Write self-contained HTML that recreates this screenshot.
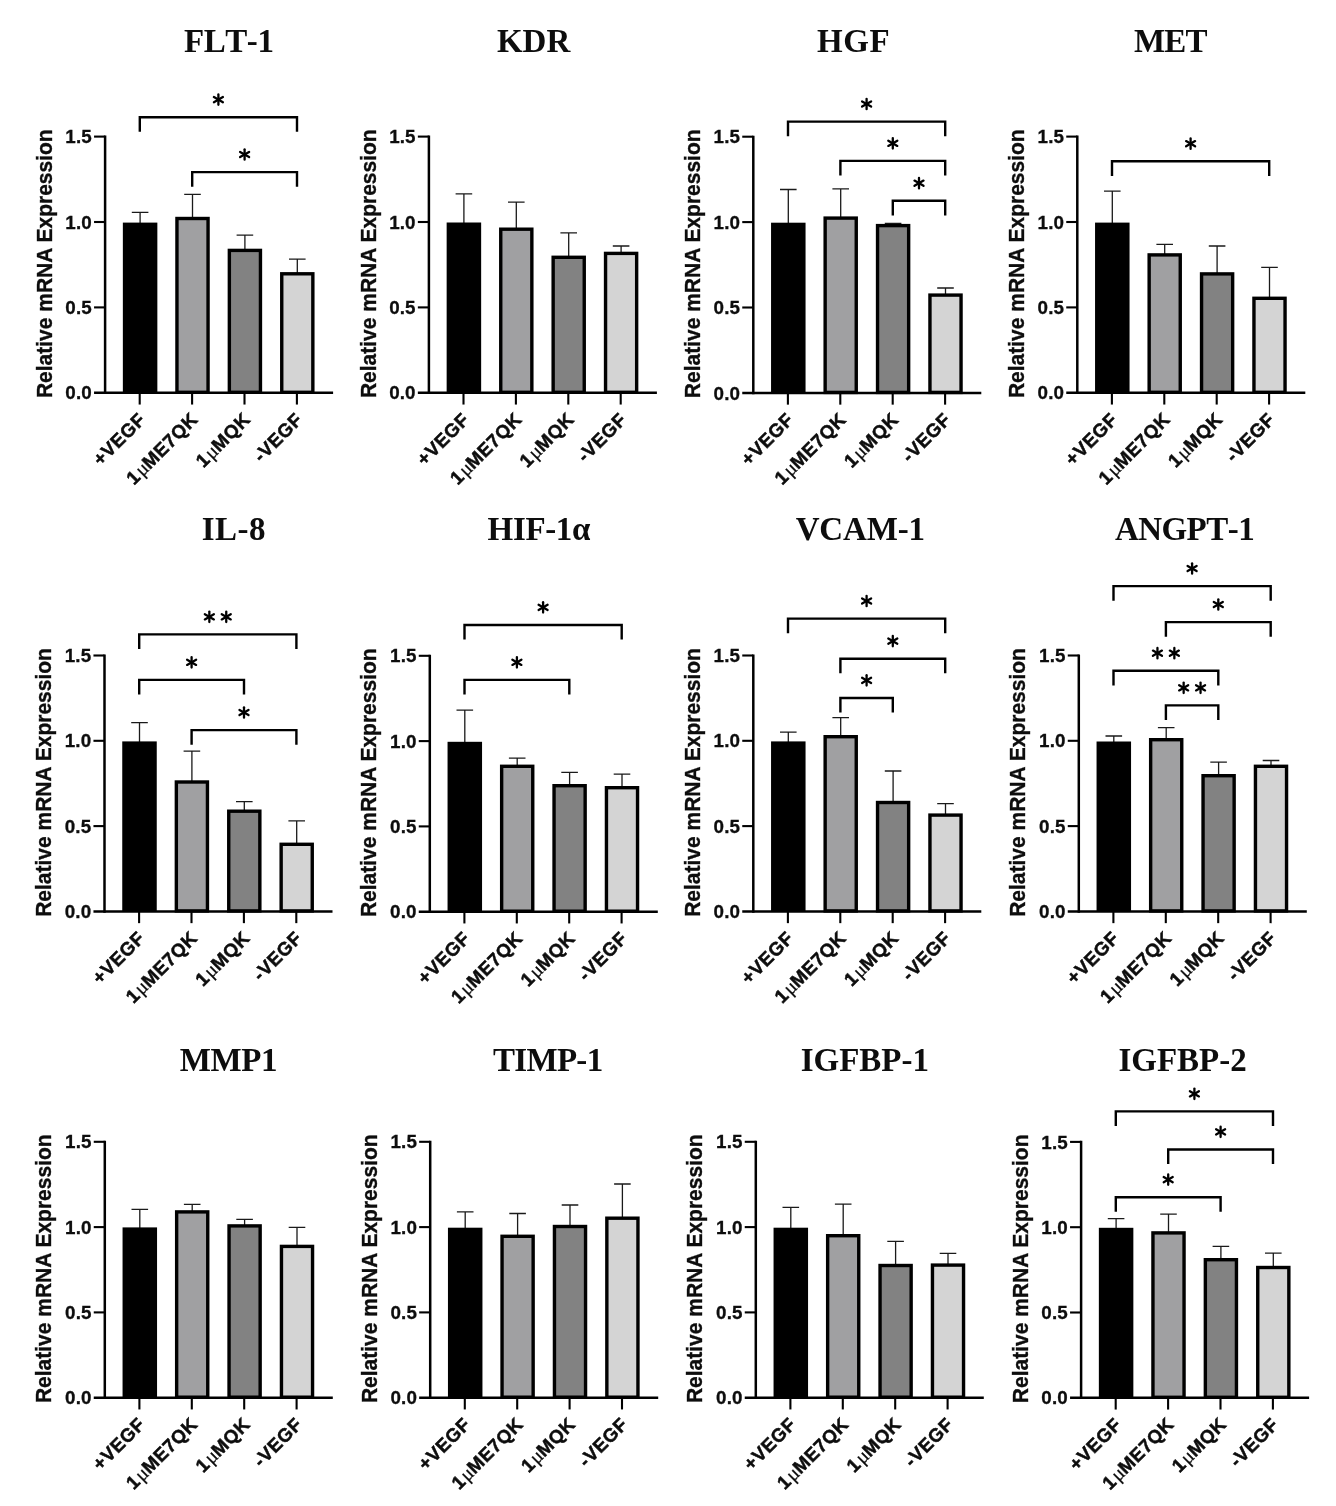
<!DOCTYPE html>
<html lang="en"><head><meta charset="utf-8"><title>Relative mRNA Expression</title>
<style>
html,body{margin:0;padding:0;background:#fff;}
body{width:1336px;height:1506px;overflow:hidden;}
svg{display:block;will-change:transform;filter:blur(0.45px);}
text{fill:#0d0d0d;}
.tt{font-family:"Liberation Serif",serif;font-weight:bold;font-size:33px;text-anchor:middle;font-kerning:none;}
.yt{font-family:"Liberation Sans",sans-serif;font-weight:bold;font-size:22.4px;text-anchor:middle;stroke:#0d0d0d;stroke-width:0.35px;}
.yl{font-family:"Liberation Sans",sans-serif;font-weight:bold;font-size:18.8px;text-anchor:end;letter-spacing:0.15px;stroke:#0d0d0d;stroke-width:0.3px;}
.xl{font-family:"Liberation Sans",sans-serif;font-weight:bold;font-size:18.8px;text-anchor:end;letter-spacing:0.6px;stroke:#0d0d0d;stroke-width:0.5px;}
.mu{font-family:"Liberation Serif",serif;font-weight:normal;font-size:20px;letter-spacing:-0.4px;stroke-width:0.25px;}
.axl{stroke:#000;stroke-width:2.5;fill:none;}
.tk{stroke:#000;stroke-width:2.1;fill:none;}
.eb{stroke:#1a1a1a;stroke-width:1.3;fill:none;}
.bk{stroke:#000;stroke-width:2.4;fill:none;stroke-linejoin:miter;}
.st line{stroke:#000;stroke-width:2.3;stroke-linecap:round;}
</style></head><body>
<svg width="1336" height="1506" viewBox="0 0 1336 1506">
<rect width="1336" height="1506" fill="#fff"/>
<g>
<text class="tt" x="228.69" y="52.4" style="letter-spacing:-0.42px">FLT-1</text>
<text class="yt" transform="translate(51.7 263.7) rotate(-90) scale(0.9375 1)">Relative mRNA Expression</text>
<path class="eb" d="M140.1 223.6V212.3M131.8 212.3H148.4"/>
<rect x="122.85" y="222.6" width="34.5" height="170.2" fill="#000"/>
<path class="eb" d="M192.5 217.8V194.4M184.2 194.4H200.8"/>
<rect x="176.95" y="218.5" width="31.1" height="173.8" fill="#a0a0a2" stroke="#000" stroke-width="3.4"/>
<path class="eb" d="M244.9 249.7V235.1M236.6 235.1H253.2"/>
<rect x="229.35" y="250.4" width="31.1" height="141.9" fill="#828282" stroke="#000" stroke-width="3.4"/>
<path class="eb" d="M297.3 273.1V259.2M289 259.2H305.6"/>
<rect x="281.75" y="273.8" width="31.1" height="118.5" fill="#d4d4d4" stroke="#000" stroke-width="3.4"/>
<path class="axl" d="M105.1 135.55V394.05"/>
<path class="axl" d="M94.05 392.8H333.1"/>
<path class="tk" d="M94.05 307.4H105.1"/>
<path class="tk" d="M94.05 222H105.1"/>
<path class="tk" d="M94.05 136.6H105.1"/>
<text class="yl" x="91.9" y="399.4">0.0</text>
<text class="yl" x="91.9" y="314">0.5</text>
<text class="yl" x="91.9" y="228.6">1.0</text>
<text class="yl" x="91.9" y="143.2">1.5</text>
<path class="tk" d="M139.7 392.8V404.55"/>
<text class="xl" transform="translate(146.7 420.6) rotate(-45)">+VEGF</text>
<path class="tk" d="M192.1 392.8V404.55"/>
<text class="xl" transform="translate(199.1 420.6) rotate(-45)">1<tspan class="mu" dx="0.8">μ</tspan>ME7QK</text>
<path class="tk" d="M244.5 392.8V404.55"/>
<text class="xl" transform="translate(251.5 420.6) rotate(-45)">1<tspan class="mu" dx="0.8">μ</tspan>MQK</text>
<path class="tk" d="M296.9 392.8V404.55"/>
<text class="xl" transform="translate(303.9 420.6) rotate(-45)">-VEGF</text>
<path class="bk" d="M139.8 131.8V117.2H297V131.8"/>
<g class="st">
<line x1="218.4" y1="94.4" x2="218.4" y2="104.8"/><line x1="213.9" y1="97" x2="222.9" y2="102.2"/><line x1="222.9" y1="97" x2="213.9" y2="102.2"/>
</g>
<path class="bk" d="M192.2 186.7V172.1H297V186.7"/>
<g class="st">
<line x1="244.6" y1="149.3" x2="244.6" y2="159.7"/><line x1="240.1" y1="151.9" x2="249.1" y2="157.1"/><line x1="249.1" y1="151.9" x2="240.1" y2="157.1"/>
</g>
</g>
<g>
<text class="tt" x="533.6" y="52.4">KDR</text>
<text class="yt" transform="translate(375.5 263.7) rotate(-90) scale(0.9375 1)">Relative mRNA Expression</text>
<path class="eb" d="M463.9 223.5V193.9M455.6 193.9H472.2"/>
<rect x="446.65" y="222.5" width="34.5" height="170.3" fill="#000"/>
<path class="eb" d="M516.3 228.5V202.2M508 202.2H524.6"/>
<rect x="500.75" y="229.2" width="31.1" height="163.1" fill="#a0a0a2" stroke="#000" stroke-width="3.4"/>
<path class="eb" d="M568.7 256.6V232.8M560.4 232.8H577"/>
<rect x="553.15" y="257.3" width="31.1" height="135" fill="#828282" stroke="#000" stroke-width="3.4"/>
<path class="eb" d="M621.1 252.7V246M612.8 246H629.4"/>
<rect x="605.55" y="253.4" width="31.1" height="138.9" fill="#d4d4d4" stroke="#000" stroke-width="3.4"/>
<path class="axl" d="M428.9 135.55V394.05"/>
<path class="axl" d="M417.85 392.8H656.9"/>
<path class="tk" d="M417.85 307.4H428.9"/>
<path class="tk" d="M417.85 222H428.9"/>
<path class="tk" d="M417.85 136.6H428.9"/>
<text class="yl" x="415.7" y="399.4">0.0</text>
<text class="yl" x="415.7" y="314">0.5</text>
<text class="yl" x="415.7" y="228.6">1.0</text>
<text class="yl" x="415.7" y="143.2">1.5</text>
<path class="tk" d="M463.5 392.8V404.55"/>
<text class="xl" transform="translate(470.5 420.6) rotate(-45)">+VEGF</text>
<path class="tk" d="M515.9 392.8V404.55"/>
<text class="xl" transform="translate(522.9 420.6) rotate(-45)">1<tspan class="mu" dx="0.8">μ</tspan>ME7QK</text>
<path class="tk" d="M568.3 392.8V404.55"/>
<text class="xl" transform="translate(575.3 420.6) rotate(-45)">1<tspan class="mu" dx="0.8">μ</tspan>MQK</text>
<path class="tk" d="M620.7 392.8V404.55"/>
<text class="xl" transform="translate(627.7 420.6) rotate(-45)">-VEGF</text>
</g>
<g>
<text class="tt" x="853.7" y="52.4" style="letter-spacing:0.6px">HGF</text>
<text class="yt" transform="translate(699.9 263.8) rotate(-90) scale(0.9375 1)">Relative mRNA Expression</text>
<path class="eb" d="M788.3 223.7V189.5M780 189.5H796.6"/>
<rect x="771.05" y="222.7" width="34.5" height="170.2" fill="#000"/>
<path class="eb" d="M840.7 217.4V188.9M832.4 188.9H849"/>
<rect x="825.15" y="218.1" width="31.1" height="174.3" fill="#a0a0a2" stroke="#000" stroke-width="3.4"/>
<path class="eb" d="M893.1 224.9V223.3M884.8 223.3H901.4"/>
<rect x="877.55" y="225.6" width="31.1" height="166.8" fill="#828282" stroke="#000" stroke-width="3.4"/>
<path class="eb" d="M945.5 294.4V288M937.2 288H953.8"/>
<rect x="929.95" y="295.1" width="31.1" height="97.3" fill="#d4d4d4" stroke="#000" stroke-width="3.4"/>
<path class="axl" d="M753.3 135.65V394.15"/>
<path class="axl" d="M742.25 392.9H981.3"/>
<path class="tk" d="M742.25 307.5H753.3"/>
<path class="tk" d="M742.25 222.1H753.3"/>
<path class="tk" d="M742.25 136.7H753.3"/>
<text class="yl" x="740.1" y="399.5">0.0</text>
<text class="yl" x="740.1" y="314.1">0.5</text>
<text class="yl" x="740.1" y="228.7">1.0</text>
<text class="yl" x="740.1" y="143.3">1.5</text>
<path class="tk" d="M787.9 392.9V404.65"/>
<text class="xl" transform="translate(794.9 420.7) rotate(-45)">+VEGF</text>
<path class="tk" d="M840.3 392.9V404.65"/>
<text class="xl" transform="translate(847.3 420.7) rotate(-45)">1<tspan class="mu" dx="0.8">μ</tspan>ME7QK</text>
<path class="tk" d="M892.7 392.9V404.65"/>
<text class="xl" transform="translate(899.7 420.7) rotate(-45)">1<tspan class="mu" dx="0.8">μ</tspan>MQK</text>
<path class="tk" d="M945.1 392.9V404.65"/>
<text class="xl" transform="translate(952.1 420.7) rotate(-45)">-VEGF</text>
<path class="bk" d="M788 136.2V121.6H945.2V136.2"/>
<g class="st">
<line x1="866.6" y1="98.8" x2="866.6" y2="109.2"/><line x1="862.1" y1="101.4" x2="871.1" y2="106.6"/><line x1="871.1" y1="101.4" x2="862.1" y2="106.6"/>
</g>
<path class="bk" d="M840.4 175.5V160.9H945.2V175.5"/>
<g class="st">
<line x1="892.8" y1="138.1" x2="892.8" y2="148.5"/><line x1="888.3" y1="140.7" x2="897.3" y2="145.9"/><line x1="897.3" y1="140.7" x2="888.3" y2="145.9"/>
</g>
<path class="bk" d="M892.8 215.4V200.8H945.2V215.4"/>
<g class="st">
<line x1="919" y1="178" x2="919" y2="188.4"/><line x1="914.5" y1="180.6" x2="923.5" y2="185.8"/><line x1="923.5" y1="180.6" x2="914.5" y2="185.8"/>
</g>
</g>
<g>
<text class="tt" x="1170.28" y="52.4" style="letter-spacing:-0.85px">MET</text>
<text class="yt" transform="translate(1023.9 263.7) rotate(-90) scale(0.9375 1)">Relative mRNA Expression</text>
<path class="eb" d="M1112.3 223.6V191.1M1104 191.1H1120.6"/>
<rect x="1095.05" y="222.6" width="34.5" height="170.2" fill="#000"/>
<path class="eb" d="M1164.7 254.2V244.4M1156.4 244.4H1173"/>
<rect x="1149.15" y="254.9" width="31.1" height="137.4" fill="#a0a0a2" stroke="#000" stroke-width="3.4"/>
<path class="eb" d="M1217.1 273.2V246M1208.8 246H1225.4"/>
<rect x="1201.55" y="273.9" width="31.1" height="118.4" fill="#828282" stroke="#000" stroke-width="3.4"/>
<path class="eb" d="M1269.5 297.6V267.4M1261.2 267.4H1277.8"/>
<rect x="1253.95" y="298.3" width="31.1" height="94" fill="#d4d4d4" stroke="#000" stroke-width="3.4"/>
<path class="axl" d="M1077.3 135.55V394.05"/>
<path class="axl" d="M1066.25 392.8H1305.3"/>
<path class="tk" d="M1066.25 307.4H1077.3"/>
<path class="tk" d="M1066.25 222H1077.3"/>
<path class="tk" d="M1066.25 136.6H1077.3"/>
<text class="yl" x="1064.1" y="399.4">0.0</text>
<text class="yl" x="1064.1" y="314">0.5</text>
<text class="yl" x="1064.1" y="228.6">1.0</text>
<text class="yl" x="1064.1" y="143.2">1.5</text>
<path class="tk" d="M1111.9 392.8V404.55"/>
<text class="xl" transform="translate(1118.9 420.6) rotate(-45)">+VEGF</text>
<path class="tk" d="M1164.3 392.8V404.55"/>
<text class="xl" transform="translate(1171.3 420.6) rotate(-45)">1<tspan class="mu" dx="0.8">μ</tspan>ME7QK</text>
<path class="tk" d="M1216.7 392.8V404.55"/>
<text class="xl" transform="translate(1223.7 420.6) rotate(-45)">1<tspan class="mu" dx="0.8">μ</tspan>MQK</text>
<path class="tk" d="M1269.1 392.8V404.55"/>
<text class="xl" transform="translate(1276.1 420.6) rotate(-45)">-VEGF</text>
<path class="bk" d="M1112 175.9V161.3H1269.2V175.9"/>
<g class="st">
<line x1="1190.6" y1="138.5" x2="1190.6" y2="148.9"/><line x1="1186.1" y1="141.1" x2="1195.1" y2="146.3"/><line x1="1195.1" y1="141.1" x2="1186.1" y2="146.3"/>
</g>
</g>
<g>
<text class="tt" x="233.95" y="540.4" style="letter-spacing:0.5px">IL-8</text>
<text class="yt" transform="translate(51.1 782.45) rotate(-90) scale(0.9375 1)">Relative mRNA Expression</text>
<path class="eb" d="M139.5 742.4V722.7M131.2 722.7H147.8"/>
<rect x="122.25" y="741.4" width="34.5" height="170" fill="#000"/>
<path class="eb" d="M191.9 781.3V751.2M183.6 751.2H200.2"/>
<rect x="176.35" y="782" width="31.1" height="128.9" fill="#a0a0a2" stroke="#000" stroke-width="3.4"/>
<path class="eb" d="M244.3 810.5V801.6M236 801.6H252.6"/>
<rect x="228.75" y="811.2" width="31.1" height="99.7" fill="#828282" stroke="#000" stroke-width="3.4"/>
<path class="eb" d="M296.7 843.6V820.8M288.4 820.8H305"/>
<rect x="281.15" y="844.3" width="31.1" height="66.6" fill="#d4d4d4" stroke="#000" stroke-width="3.4"/>
<path class="axl" d="M104.5 654.45V912.65"/>
<path class="axl" d="M93.45 911.4H332.5"/>
<path class="tk" d="M93.45 826.1H104.5"/>
<path class="tk" d="M93.45 740.8H104.5"/>
<path class="tk" d="M93.45 655.5H104.5"/>
<text class="yl" x="91.3" y="918">0.0</text>
<text class="yl" x="91.3" y="832.7">0.5</text>
<text class="yl" x="91.3" y="747.4">1.0</text>
<text class="yl" x="91.3" y="662.1">1.5</text>
<path class="tk" d="M139.1 911.4V923.15"/>
<text class="xl" transform="translate(146.1 939.2) rotate(-45)">+VEGF</text>
<path class="tk" d="M191.5 911.4V923.15"/>
<text class="xl" transform="translate(198.5 939.2) rotate(-45)">1<tspan class="mu" dx="0.8">μ</tspan>ME7QK</text>
<path class="tk" d="M243.9 911.4V923.15"/>
<text class="xl" transform="translate(250.9 939.2) rotate(-45)">1<tspan class="mu" dx="0.8">μ</tspan>MQK</text>
<path class="tk" d="M296.3 911.4V923.15"/>
<text class="xl" transform="translate(303.3 939.2) rotate(-45)">-VEGF</text>
<path class="bk" d="M139.2 649V634.4H296.4V649"/>
<g class="st">
<line x1="209.35" y1="611.6" x2="209.35" y2="622"/><line x1="204.85" y1="614.2" x2="213.85" y2="619.4"/><line x1="213.85" y1="614.2" x2="204.85" y2="619.4"/>
<line x1="226.25" y1="611.6" x2="226.25" y2="622"/><line x1="221.75" y1="614.2" x2="230.75" y2="619.4"/><line x1="230.75" y1="614.2" x2="221.75" y2="619.4"/>
</g>
<path class="bk" d="M139.2 694.5V679.9H244V694.5"/>
<g class="st">
<line x1="191.6" y1="657.1" x2="191.6" y2="667.5"/><line x1="187.1" y1="659.7" x2="196.1" y2="664.9"/><line x1="196.1" y1="659.7" x2="187.1" y2="664.9"/>
</g>
<path class="bk" d="M191.6 744.7V730.1H296.4V744.7"/>
<g class="st">
<line x1="244" y1="707.3" x2="244" y2="717.7"/><line x1="239.5" y1="709.9" x2="248.5" y2="715.1"/><line x1="248.5" y1="709.9" x2="239.5" y2="715.1"/>
</g>
</g>
<g>
<text class="tt" x="538.83" y="540.4" style="letter-spacing:-0.35px">HIF-1α</text>
<text class="yt" transform="translate(376.4 782.75) rotate(-90) scale(0.9375 1)">Relative mRNA Expression</text>
<path class="eb" d="M464.8 742.8V710.1M456.5 710.1H473.1"/>
<rect x="447.55" y="741.8" width="34.5" height="169.9" fill="#000"/>
<path class="eb" d="M517.2 765.6V758.2M508.9 758.2H525.5"/>
<rect x="501.65" y="766.3" width="31.1" height="144.9" fill="#a0a0a2" stroke="#000" stroke-width="3.4"/>
<path class="eb" d="M569.6 785V772.4M561.3 772.4H577.9"/>
<rect x="554.05" y="785.7" width="31.1" height="125.5" fill="#828282" stroke="#000" stroke-width="3.4"/>
<path class="eb" d="M622 787V774.1M613.7 774.1H630.3"/>
<rect x="606.45" y="787.7" width="31.1" height="123.5" fill="#d4d4d4" stroke="#000" stroke-width="3.4"/>
<path class="axl" d="M429.8 654.75V912.95"/>
<path class="axl" d="M418.75 911.7H657.8"/>
<path class="tk" d="M418.75 826.4H429.8"/>
<path class="tk" d="M418.75 741.1H429.8"/>
<path class="tk" d="M418.75 655.8H429.8"/>
<text class="yl" x="416.6" y="918.3">0.0</text>
<text class="yl" x="416.6" y="833">0.5</text>
<text class="yl" x="416.6" y="747.7">1.0</text>
<text class="yl" x="416.6" y="662.4">1.5</text>
<path class="tk" d="M464.4 911.7V923.45"/>
<text class="xl" transform="translate(471.4 939.5) rotate(-45)">+VEGF</text>
<path class="tk" d="M516.8 911.7V923.45"/>
<text class="xl" transform="translate(523.8 939.5) rotate(-45)">1<tspan class="mu" dx="0.8">μ</tspan>ME7QK</text>
<path class="tk" d="M569.2 911.7V923.45"/>
<text class="xl" transform="translate(576.2 939.5) rotate(-45)">1<tspan class="mu" dx="0.8">μ</tspan>MQK</text>
<path class="tk" d="M621.6 911.7V923.45"/>
<text class="xl" transform="translate(628.6 939.5) rotate(-45)">-VEGF</text>
<path class="bk" d="M464.5 639.6V625H621.7V639.6"/>
<g class="st">
<line x1="543.1" y1="602.2" x2="543.1" y2="612.6"/><line x1="538.6" y1="604.8" x2="547.6" y2="610"/><line x1="547.6" y1="604.8" x2="538.6" y2="610"/>
</g>
<path class="bk" d="M464.5 694.5V679.9H569.3V694.5"/>
<g class="st">
<line x1="516.9" y1="657.1" x2="516.9" y2="667.5"/><line x1="512.4" y1="659.7" x2="521.4" y2="664.9"/><line x1="521.4" y1="659.7" x2="512.4" y2="664.9"/>
</g>
</g>
<g>
<text class="tt" x="860.22" y="540.4" style="letter-spacing:-0.16px">VCAM-1</text>
<text class="yt" transform="translate(699.9 782.45) rotate(-90) scale(0.9375 1)">Relative mRNA Expression</text>
<path class="eb" d="M788.3 742.4V732.1M780 732.1H796.6"/>
<rect x="771.05" y="741.4" width="34.5" height="170" fill="#000"/>
<path class="eb" d="M840.7 736V717.7M832.4 717.7H849"/>
<rect x="825.15" y="736.7" width="31.1" height="174.2" fill="#a0a0a2" stroke="#000" stroke-width="3.4"/>
<path class="eb" d="M893.1 801.8V771M884.8 771H901.4"/>
<rect x="877.55" y="802.5" width="31.1" height="108.4" fill="#828282" stroke="#000" stroke-width="3.4"/>
<path class="eb" d="M945.5 814.4V803.7M937.2 803.7H953.8"/>
<rect x="929.95" y="815.1" width="31.1" height="95.8" fill="#d4d4d4" stroke="#000" stroke-width="3.4"/>
<path class="axl" d="M753.3 654.45V912.65"/>
<path class="axl" d="M742.25 911.4H981.3"/>
<path class="tk" d="M742.25 826.1H753.3"/>
<path class="tk" d="M742.25 740.8H753.3"/>
<path class="tk" d="M742.25 655.5H753.3"/>
<text class="yl" x="740.1" y="918">0.0</text>
<text class="yl" x="740.1" y="832.7">0.5</text>
<text class="yl" x="740.1" y="747.4">1.0</text>
<text class="yl" x="740.1" y="662.1">1.5</text>
<path class="tk" d="M787.9 911.4V923.15"/>
<text class="xl" transform="translate(794.9 939.2) rotate(-45)">+VEGF</text>
<path class="tk" d="M840.3 911.4V923.15"/>
<text class="xl" transform="translate(847.3 939.2) rotate(-45)">1<tspan class="mu" dx="0.8">μ</tspan>ME7QK</text>
<path class="tk" d="M892.7 911.4V923.15"/>
<text class="xl" transform="translate(899.7 939.2) rotate(-45)">1<tspan class="mu" dx="0.8">μ</tspan>MQK</text>
<path class="tk" d="M945.1 911.4V923.15"/>
<text class="xl" transform="translate(952.1 939.2) rotate(-45)">-VEGF</text>
<path class="bk" d="M788 633.2V618.6H945.2V633.2"/>
<g class="st">
<line x1="866.6" y1="595.8" x2="866.6" y2="606.2"/><line x1="862.1" y1="598.4" x2="871.1" y2="603.6"/><line x1="871.1" y1="598.4" x2="862.1" y2="603.6"/>
</g>
<path class="bk" d="M840.4 673.3V658.7H945.2V673.3"/>
<g class="st">
<line x1="892.8" y1="635.9" x2="892.8" y2="646.3"/><line x1="888.3" y1="638.5" x2="897.3" y2="643.7"/><line x1="897.3" y1="638.5" x2="888.3" y2="643.7"/>
</g>
<path class="bk" d="M840.4 712.6V698H892.8V712.6"/>
<g class="st">
<line x1="866.6" y1="675.2" x2="866.6" y2="685.6"/><line x1="862.1" y1="677.8" x2="871.1" y2="683"/><line x1="871.1" y1="677.8" x2="862.1" y2="683"/>
</g>
</g>
<g>
<text class="tt" x="1184.53" y="540.4" style="letter-spacing:-0.53px">ANGPT-1</text>
<text class="yt" transform="translate(1025.4 782.45) rotate(-90) scale(0.9375 1)">Relative mRNA Expression</text>
<path class="eb" d="M1113.8 742.5V736M1105.5 736H1122.1"/>
<rect x="1096.55" y="741.5" width="34.5" height="169.9" fill="#000"/>
<path class="eb" d="M1166.2 739V727.6M1157.9 727.6H1174.5"/>
<rect x="1150.65" y="739.7" width="31.1" height="171.2" fill="#a0a0a2" stroke="#000" stroke-width="3.4"/>
<path class="eb" d="M1218.6 775V762.1M1210.3 762.1H1226.9"/>
<rect x="1203.05" y="775.7" width="31.1" height="135.2" fill="#828282" stroke="#000" stroke-width="3.4"/>
<path class="eb" d="M1271 765.6V760.5M1262.7 760.5H1279.3"/>
<rect x="1255.45" y="766.3" width="31.1" height="144.6" fill="#d4d4d4" stroke="#000" stroke-width="3.4"/>
<path class="axl" d="M1078.8 654.45V912.65"/>
<path class="axl" d="M1067.75 911.4H1306.8"/>
<path class="tk" d="M1067.75 826.1H1078.8"/>
<path class="tk" d="M1067.75 740.8H1078.8"/>
<path class="tk" d="M1067.75 655.5H1078.8"/>
<text class="yl" x="1065.6" y="918">0.0</text>
<text class="yl" x="1065.6" y="832.7">0.5</text>
<text class="yl" x="1065.6" y="747.4">1.0</text>
<text class="yl" x="1065.6" y="662.1">1.5</text>
<path class="tk" d="M1113.4 911.4V923.15"/>
<text class="xl" transform="translate(1120.4 939.2) rotate(-45)">+VEGF</text>
<path class="tk" d="M1165.8 911.4V923.15"/>
<text class="xl" transform="translate(1172.8 939.2) rotate(-45)">1<tspan class="mu" dx="0.8">μ</tspan>ME7QK</text>
<path class="tk" d="M1218.2 911.4V923.15"/>
<text class="xl" transform="translate(1225.2 939.2) rotate(-45)">1<tspan class="mu" dx="0.8">μ</tspan>MQK</text>
<path class="tk" d="M1270.6 911.4V923.15"/>
<text class="xl" transform="translate(1277.6 939.2) rotate(-45)">-VEGF</text>
<path class="bk" d="M1113.5 600.7V586.1H1270.7V600.7"/>
<g class="st">
<line x1="1192.1" y1="563.3" x2="1192.1" y2="573.7"/><line x1="1187.6" y1="565.9" x2="1196.6" y2="571.1"/><line x1="1196.6" y1="565.9" x2="1187.6" y2="571.1"/>
</g>
<path class="bk" d="M1165.9 636.7V622.1H1270.7V636.7"/>
<g class="st">
<line x1="1218.3" y1="599.3" x2="1218.3" y2="609.7"/><line x1="1213.8" y1="601.9" x2="1222.8" y2="607.1"/><line x1="1222.8" y1="601.9" x2="1213.8" y2="607.1"/>
</g>
<path class="bk" d="M1113.5 685.4V670.8H1218.3V685.4"/>
<g class="st">
<line x1="1157.45" y1="648" x2="1157.45" y2="658.4"/><line x1="1152.95" y1="650.6" x2="1161.95" y2="655.8"/><line x1="1161.95" y1="650.6" x2="1152.95" y2="655.8"/>
<line x1="1174.35" y1="648" x2="1174.35" y2="658.4"/><line x1="1169.85" y1="650.6" x2="1178.85" y2="655.8"/><line x1="1178.85" y1="650.6" x2="1169.85" y2="655.8"/>
</g>
<path class="bk" d="M1165.9 720V705.4H1218.3V720"/>
<g class="st">
<line x1="1183.65" y1="682.6" x2="1183.65" y2="693"/><line x1="1179.15" y1="685.2" x2="1188.15" y2="690.4"/><line x1="1188.15" y1="685.2" x2="1179.15" y2="690.4"/>
<line x1="1200.55" y1="682.6" x2="1200.55" y2="693"/><line x1="1196.05" y1="685.2" x2="1205.05" y2="690.4"/><line x1="1205.05" y1="685.2" x2="1196.05" y2="690.4"/>
</g>
</g>
<g>
<text class="tt" x="228.4" y="1071.4" style="letter-spacing:-0.4px">MMP1</text>
<text class="yt" transform="translate(51.4 1268.75) rotate(-90) scale(0.9375 1)">Relative mRNA Expression</text>
<path class="eb" d="M139.8 1228.4V1209.3M131.5 1209.3H148.1"/>
<rect x="122.55" y="1227.4" width="34.5" height="170.3" fill="#000"/>
<path class="eb" d="M192.2 1211.2V1204.4M183.9 1204.4H200.5"/>
<rect x="176.65" y="1211.9" width="31.1" height="185.3" fill="#a0a0a2" stroke="#000" stroke-width="3.4"/>
<path class="eb" d="M244.6 1225.2V1219.4M236.3 1219.4H252.9"/>
<rect x="229.05" y="1225.9" width="31.1" height="171.3" fill="#828282" stroke="#000" stroke-width="3.4"/>
<path class="eb" d="M297 1245.7V1227.4M288.7 1227.4H305.3"/>
<rect x="281.45" y="1246.4" width="31.1" height="150.8" fill="#d4d4d4" stroke="#000" stroke-width="3.4"/>
<path class="axl" d="M104.8 1140.75V1398.95"/>
<path class="axl" d="M93.75 1397.7H332.8"/>
<path class="tk" d="M93.75 1312.4H104.8"/>
<path class="tk" d="M93.75 1227.1H104.8"/>
<path class="tk" d="M93.75 1141.8H104.8"/>
<text class="yl" x="91.6" y="1404.3">0.0</text>
<text class="yl" x="91.6" y="1319">0.5</text>
<text class="yl" x="91.6" y="1233.7">1.0</text>
<text class="yl" x="91.6" y="1148.4">1.5</text>
<path class="tk" d="M139.4 1397.7V1409.45"/>
<text class="xl" transform="translate(146.4 1425.5) rotate(-45)">+VEGF</text>
<path class="tk" d="M191.8 1397.7V1409.45"/>
<text class="xl" transform="translate(198.8 1425.5) rotate(-45)">1<tspan class="mu" dx="0.8">μ</tspan>ME7QK</text>
<path class="tk" d="M244.2 1397.7V1409.45"/>
<text class="xl" transform="translate(251.2 1425.5) rotate(-45)">1<tspan class="mu" dx="0.8">μ</tspan>MQK</text>
<path class="tk" d="M296.6 1397.7V1409.45"/>
<text class="xl" transform="translate(303.6 1425.5) rotate(-45)">-VEGF</text>
</g>
<g>
<text class="tt" x="547.75" y="1071.4" style="letter-spacing:-0.7px">TIMP-1</text>
<text class="yt" transform="translate(376.8 1268.75) rotate(-90) scale(0.9375 1)">Relative mRNA Expression</text>
<path class="eb" d="M465.2 1228.7V1211.8M456.9 1211.8H473.5"/>
<rect x="447.95" y="1227.7" width="34.5" height="170" fill="#000"/>
<path class="eb" d="M517.6 1235.6V1213.5M509.3 1213.5H525.9"/>
<rect x="502.05" y="1236.3" width="31.1" height="160.9" fill="#a0a0a2" stroke="#000" stroke-width="3.4"/>
<path class="eb" d="M570 1225.8V1205M561.7 1205H578.3"/>
<rect x="554.45" y="1226.5" width="31.1" height="170.7" fill="#828282" stroke="#000" stroke-width="3.4"/>
<path class="eb" d="M622.4 1217.5V1184M614.1 1184H630.7"/>
<rect x="606.85" y="1218.2" width="31.1" height="179" fill="#d4d4d4" stroke="#000" stroke-width="3.4"/>
<path class="axl" d="M430.2 1140.75V1398.95"/>
<path class="axl" d="M419.15 1397.7H658.2"/>
<path class="tk" d="M419.15 1312.4H430.2"/>
<path class="tk" d="M419.15 1227.1H430.2"/>
<path class="tk" d="M419.15 1141.8H430.2"/>
<text class="yl" x="417" y="1404.3">0.0</text>
<text class="yl" x="417" y="1319">0.5</text>
<text class="yl" x="417" y="1233.7">1.0</text>
<text class="yl" x="417" y="1148.4">1.5</text>
<path class="tk" d="M464.8 1397.7V1409.45"/>
<text class="xl" transform="translate(471.8 1425.5) rotate(-45)">+VEGF</text>
<path class="tk" d="M517.2 1397.7V1409.45"/>
<text class="xl" transform="translate(524.2 1425.5) rotate(-45)">1<tspan class="mu" dx="0.8">μ</tspan>ME7QK</text>
<path class="tk" d="M569.6 1397.7V1409.45"/>
<text class="xl" transform="translate(576.6 1425.5) rotate(-45)">1<tspan class="mu" dx="0.8">μ</tspan>MQK</text>
<path class="tk" d="M622 1397.7V1409.45"/>
<text class="xl" transform="translate(629 1425.5) rotate(-45)">-VEGF</text>
</g>
<g>
<text class="tt" x="864.8" y="1071.4">IGFBP-1</text>
<text class="yt" transform="translate(702.4 1268.75) rotate(-90) scale(0.9375 1)">Relative mRNA Expression</text>
<path class="eb" d="M790.8 1228.7V1207.3M782.5 1207.3H799.1"/>
<rect x="773.55" y="1227.7" width="34.5" height="170" fill="#000"/>
<path class="eb" d="M843.2 1235V1204.2M834.9 1204.2H851.5"/>
<rect x="827.65" y="1235.7" width="31.1" height="161.5" fill="#a0a0a2" stroke="#000" stroke-width="3.4"/>
<path class="eb" d="M895.6 1264.8V1241.4M887.3 1241.4H903.9"/>
<rect x="880.05" y="1265.5" width="31.1" height="131.7" fill="#828282" stroke="#000" stroke-width="3.4"/>
<path class="eb" d="M948 1264.4V1253.4M939.7 1253.4H956.3"/>
<rect x="932.45" y="1265.1" width="31.1" height="132.1" fill="#d4d4d4" stroke="#000" stroke-width="3.4"/>
<path class="axl" d="M755.8 1140.75V1398.95"/>
<path class="axl" d="M744.75 1397.7H983.8"/>
<path class="tk" d="M744.75 1312.4H755.8"/>
<path class="tk" d="M744.75 1227.1H755.8"/>
<path class="tk" d="M744.75 1141.8H755.8"/>
<text class="yl" x="742.6" y="1404.3">0.0</text>
<text class="yl" x="742.6" y="1319">0.5</text>
<text class="yl" x="742.6" y="1233.7">1.0</text>
<text class="yl" x="742.6" y="1148.4">1.5</text>
<path class="tk" d="M790.4 1397.7V1409.45"/>
<text class="xl" transform="translate(797.4 1425.5) rotate(-45)">+VEGF</text>
<path class="tk" d="M842.8 1397.7V1409.45"/>
<text class="xl" transform="translate(849.8 1425.5) rotate(-45)">1<tspan class="mu" dx="0.8">μ</tspan>ME7QK</text>
<path class="tk" d="M895.2 1397.7V1409.45"/>
<text class="xl" transform="translate(902.2 1425.5) rotate(-45)">1<tspan class="mu" dx="0.8">μ</tspan>MQK</text>
<path class="tk" d="M947.6 1397.7V1409.45"/>
<text class="xl" transform="translate(954.6 1425.5) rotate(-45)">-VEGF</text>
</g>
<g>
<text class="tt" x="1182.6" y="1071.4">IGFBP-2</text>
<text class="yt" transform="translate(1027.7 1268.85) rotate(-90) scale(0.9375 1)">Relative mRNA Expression</text>
<path class="eb" d="M1116.1 1228.8V1218.7M1107.8 1218.7H1124.4"/>
<rect x="1098.85" y="1227.8" width="34.5" height="170" fill="#000"/>
<path class="eb" d="M1168.5 1232.2V1214.2M1160.2 1214.2H1176.8"/>
<rect x="1152.95" y="1232.9" width="31.1" height="164.4" fill="#a0a0a2" stroke="#000" stroke-width="3.4"/>
<path class="eb" d="M1220.9 1259V1246.3M1212.6 1246.3H1229.2"/>
<rect x="1205.35" y="1259.7" width="31.1" height="137.6" fill="#828282" stroke="#000" stroke-width="3.4"/>
<path class="eb" d="M1273.3 1266.8V1253.1M1265 1253.1H1281.6"/>
<rect x="1257.75" y="1267.5" width="31.1" height="129.8" fill="#d4d4d4" stroke="#000" stroke-width="3.4"/>
<path class="axl" d="M1081.1 1140.85V1399.05"/>
<path class="axl" d="M1070.05 1397.8H1309.1"/>
<path class="tk" d="M1070.05 1312.5H1081.1"/>
<path class="tk" d="M1070.05 1227.2H1081.1"/>
<path class="tk" d="M1070.05 1141.9H1081.1"/>
<text class="yl" x="1067.9" y="1404.4">0.0</text>
<text class="yl" x="1067.9" y="1319.1">0.5</text>
<text class="yl" x="1067.9" y="1233.8">1.0</text>
<text class="yl" x="1067.9" y="1148.5">1.5</text>
<path class="tk" d="M1115.7 1397.8V1409.55"/>
<text class="xl" transform="translate(1122.7 1425.6) rotate(-45)">+VEGF</text>
<path class="tk" d="M1168.1 1397.8V1409.55"/>
<text class="xl" transform="translate(1175.1 1425.6) rotate(-45)">1<tspan class="mu" dx="0.8">μ</tspan>ME7QK</text>
<path class="tk" d="M1220.5 1397.8V1409.55"/>
<text class="xl" transform="translate(1227.5 1425.6) rotate(-45)">1<tspan class="mu" dx="0.8">μ</tspan>MQK</text>
<path class="tk" d="M1272.9 1397.8V1409.55"/>
<text class="xl" transform="translate(1279.9 1425.6) rotate(-45)">-VEGF</text>
<path class="bk" d="M1115.8 1126V1111.4H1273V1126"/>
<g class="st">
<line x1="1194.4" y1="1088.6" x2="1194.4" y2="1099"/><line x1="1189.9" y1="1091.2" x2="1198.9" y2="1096.4"/><line x1="1198.9" y1="1091.2" x2="1189.9" y2="1096.4"/>
</g>
<path class="bk" d="M1168.2 1164.1V1149.5H1273V1164.1"/>
<g class="st">
<line x1="1220.6" y1="1126.7" x2="1220.6" y2="1137.1"/><line x1="1216.1" y1="1129.3" x2="1225.1" y2="1134.5"/><line x1="1225.1" y1="1129.3" x2="1216.1" y2="1134.5"/>
</g>
<path class="bk" d="M1115.8 1211.8V1197.2H1220.6V1211.8"/>
<g class="st">
<line x1="1168.2" y1="1174.4" x2="1168.2" y2="1184.8"/><line x1="1163.7" y1="1177" x2="1172.7" y2="1182.2"/><line x1="1172.7" y1="1177" x2="1163.7" y2="1182.2"/>
</g>
</g>
</svg></body></html>
